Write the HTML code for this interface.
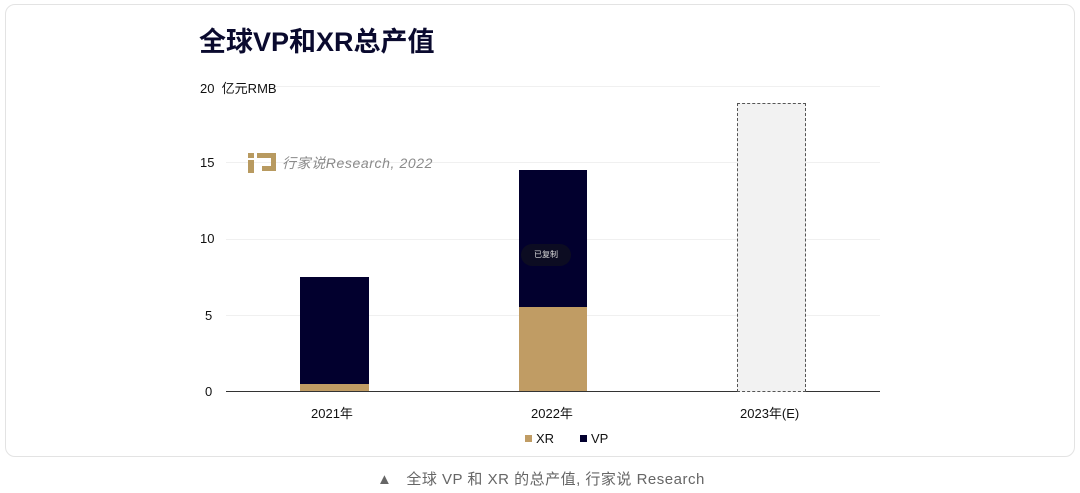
<!DOCTYPE html>
<html><head><meta charset="utf-8"><style>
body{margin:0;width:1080px;height:493px;background:#fff;font-family:"Liberation Sans","Noto Sans CJK SC",sans-serif;position:relative;overflow:hidden}
.card{position:absolute;left:5px;top:4px;width:1068px;height:451px;border:1px solid #e3e3e3;border-radius:10px}
.t{position:absolute;white-space:nowrap}
.gl{position:absolute;left:226px;width:654px;height:1px;background:#f0f0f0}
.yl{position:absolute;font-size:13px;color:#111;text-align:left;left:200px;white-space:nowrap}
</style></head><body>
<div class="card"></div>
<div class="t" style="left:199px;top:20px;font-size:27px;font-weight:bold;color:#0a0a2e">全球VP和XR总产值</div>
<div class="gl" style="top:86px;left:268px;width:612px"></div>
<div class="gl" style="top:162px"></div>
<div class="gl" style="top:239px"></div>
<div class="gl" style="top:315px"></div>
<div style="position:absolute;left:226px;top:391px;width:654px;height:1px;background:#333"></div>
<div class="yl" style="top:78px">20&nbsp;&nbsp;亿元RMB</div>
<div class="yl" style="top:155px">15</div>
<div class="yl" style="top:231px">10</div>
<div class="yl" style="top:308px;left:205px">5</div>
<div class="yl" style="top:384px;left:205px">0</div>
<svg style="position:absolute;left:248px;top:151px" width="28" height="22"><path d="M0 2h6v5H0zM0 9h6v13H0zM9 2h19v18H14v-5h9V7H9z" fill="#b89a60"/></svg>
<div class="t" style="left:282px;top:153px;font-size:14px;color:#8a8a8a;font-style:italic;letter-spacing:0.6px">行家说Research, 2022</div>
<div style="position:absolute;left:300px;top:277px;width:69px;height:107px;background:#02002e"></div>
<div style="position:absolute;left:300px;top:384px;width:69px;height:7px;background:#c09c64"></div>
<div style="position:absolute;left:519px;top:170px;width:68px;height:137px;background:#02002e"></div>
<div style="position:absolute;left:519px;top:307px;width:68px;height:84px;background:#c09c64"></div>
<div style="position:absolute;left:521px;top:244px;width:50px;height:22px;border-radius:11px;background:#0c0c22;color:#ddd;font-size:8px;line-height:22px;text-align:center">已复制</div>
<div style="position:absolute;left:737px;top:103px;width:67px;height:287px;background:#f2f2f2;border:1px dashed #555"></div>
<div class="t" style="left:311px;top:403px;font-size:13px;color:#111">2021年</div>
<div class="t" style="left:531px;top:403px;font-size:13px;color:#111">2022年</div>
<div class="t" style="left:740px;top:403px;font-size:13px;color:#111">2023年(E)</div>
<div style="position:absolute;left:525px;top:435px;width:7px;height:7px;background:#c09c64"></div>
<div class="t" style="left:536px;top:431px;font-size:13px;color:#111">XR</div>
<div style="position:absolute;left:580px;top:435px;width:7px;height:7px;background:#02002e"></div>
<div class="t" style="left:591px;top:431px;font-size:13px;color:#111">VP</div>
<div class="t" style="left:377px;top:468px;font-size:15px;color:#666;letter-spacing:0.5px">▲&nbsp;&nbsp;&nbsp;全球 VP 和 XR 的总产值, 行家说 Research</div>
</body></html>
